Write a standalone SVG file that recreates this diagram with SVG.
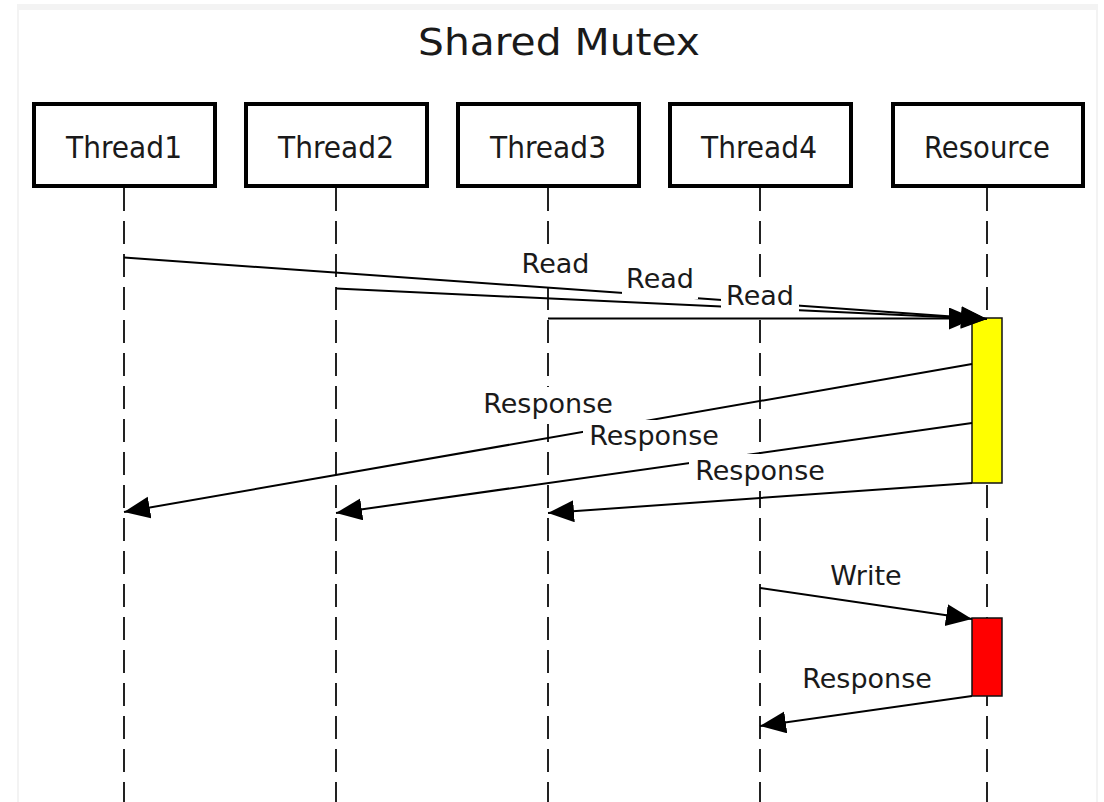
<svg xmlns="http://www.w3.org/2000/svg" width="1104" height="802" viewBox="0 0 1104 802">
  <defs>
    <style>
      .frame { fill: #f3f3f3; }
      .sheet { fill: #ffffff; }
      .title { font-family: "DejaVu Sans", "Liberation Sans", sans-serif; font-size: 38px; fill: #1a1a1a; text-anchor: middle; }
      .actor rect { fill: #ffffff; stroke: #000000; stroke-width: 4; }
      .actor text { font-family: "DejaVu Sans", "Liberation Sans", sans-serif; font-size: 31px; fill: #1a1a1a; text-anchor: middle; }
      .lifeline { stroke: #222222; stroke-width: 2; stroke-dasharray: 23 10; fill: none; }
      .act { stroke: #111111; stroke-width: 1.5; }
      .msg { stroke: #000000; stroke-width: 2; fill: none; marker-end: url(#head); }
      .lbl-bg { fill: #ffffff; }
      .lbl { font-family: "DejaVu Sans", "Liberation Sans", sans-serif; font-size: 27px; fill: #1a1a1a; text-anchor: middle; }
    </style>
    <marker id="head" markerUnits="userSpaceOnUse" markerWidth="28" markerHeight="24" refX="26" refY="11" orient="auto">
      <path d="M0,0 L26,11 L0,22 z" fill="#000000"/>
    </marker>
  </defs>

  <!-- page background -->
  <rect x="0" y="0" width="1104" height="802" fill="#ffffff"/>
  <rect class="frame" x="17" y="4" width="1081" height="798"/>
  <rect class="sheet" x="19" y="10" width="1077" height="792"/>

  <text class="title" x="559" y="55" textLength="282" lengthAdjust="spacingAndGlyphs">Shared Mutex</text>

  <!-- lifelines -->
  <g id="lifelines">
    <line class="lifeline" x1="124" y1="188" x2="124" y2="802"/>
    <line class="lifeline" x1="336" y1="188" x2="336" y2="802"/>
    <line class="lifeline" x1="548" y1="188" x2="548" y2="802"/>
    <line class="lifeline" x1="760" y1="188" x2="760" y2="802"/>
    <line class="lifeline" x1="987" y1="188" x2="987" y2="802"/>
  </g>

  <!-- participants -->
  <g id="thread1" class="actor">
    <rect x="34" y="104" width="181" height="82"/>
    <text x="124" y="158" textLength="116" lengthAdjust="spacingAndGlyphs">Thread1</text>
  </g>
  <g id="thread2" class="actor">
    <rect x="246" y="104" width="181" height="82"/>
    <text x="336" y="158" textLength="116" lengthAdjust="spacingAndGlyphs">Thread2</text>
  </g>
  <g id="thread3" class="actor">
    <rect x="458" y="104" width="181" height="82"/>
    <text x="548" y="158" textLength="116" lengthAdjust="spacingAndGlyphs">Thread3</text>
  </g>
  <g id="thread4" class="actor">
    <rect x="670" y="104" width="181" height="82"/>
    <text x="759" y="158" textLength="116" lengthAdjust="spacingAndGlyphs">Thread4</text>
  </g>
  <g id="resource" class="actor">
    <rect x="893" y="104" width="190" height="82"/>
    <text x="987" y="158" textLength="126" lengthAdjust="spacingAndGlyphs">Resource</text>
  </g>

  <!-- activations on the resource -->
  <g id="shared-lock">
    <rect class="act" x="972" y="318" width="30" height="165" fill="#ffff00"/>
  </g>
  <g id="exclusive-lock">
    <rect class="act" x="972" y="618" width="30" height="78" fill="#ff0000"/>
  </g>

  <!-- messages -->
  <g id="connectors">
    <line class="msg" x1="124" y1="257.5" x2="987" y2="319"/>
    <line class="msg" x1="336" y1="288.5" x2="987" y2="319"/>
    <line class="msg" x1="548" y1="318.5" x2="975" y2="318.5"/>
    <line class="msg" x1="972" y1="364" x2="124" y2="512"/>
    <line class="msg" x1="972" y1="423" x2="336" y2="513"/>
    <line class="msg" x1="972" y1="483" x2="548" y2="513"/>
    <line class="msg" x1="760" y1="588" x2="972" y2="619"/>
    <line class="msg" x1="972" y1="696" x2="760" y2="726"/>

    <!-- labels on white plates -->
    <rect class="lbl-bg" x="517" y="247" width="77" height="37"/>
    <text class="lbl" x="555.5" y="273">Read</text>
    <rect class="lbl-bg" x="622" y="262" width="76" height="37"/>
    <text class="lbl" x="660" y="288">Read</text>
    <rect class="lbl-bg" x="721" y="279" width="78" height="37"/>
    <text class="lbl" x="760" y="305">Read</text>
    <rect class="lbl-bg" x="477" y="387" width="142" height="37"/>
    <text class="lbl" x="548" y="413">Response</text>
    <rect class="lbl-bg" x="583" y="420" width="142" height="36"/>
    <text class="lbl" x="654" y="445">Response</text>
    <rect class="lbl-bg" x="689" y="454" width="142" height="37"/>
    <text class="lbl" x="760" y="480">Response</text>
    <rect class="lbl-bg" x="826" y="559" width="80" height="36"/>
    <text class="lbl" x="866" y="585">Write</text>
    <rect class="lbl-bg" x="796" y="662" width="142" height="36"/>
    <text class="lbl" x="867" y="688">Response</text>
  </g>
</svg>
